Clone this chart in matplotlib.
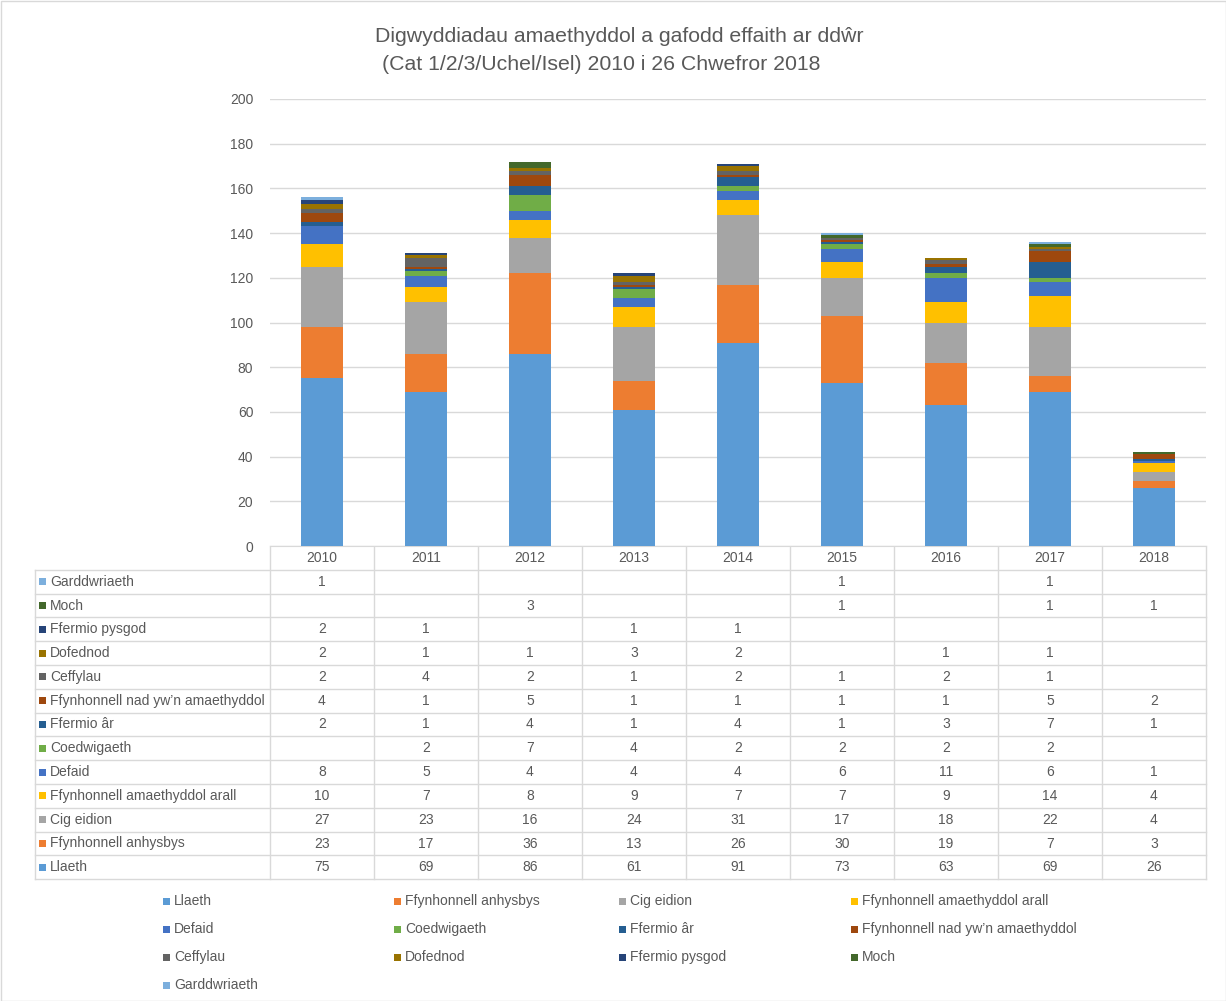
import matplotlib
matplotlib.use("Agg")
import matplotlib.pyplot as plt
from matplotlib.patches import Rectangle
from matplotlib import font_manager

years = ["2010", "2011", "2012", "2013", "2014", "2015", "2016", "2017", "2018"]

# stacking order bottom -> top
series_names = [
    "Llaeth",
    "Ffynhonnell anhysbys",
    "Cig eidion",
    "Ffynhonnell amaethyddol arall",
    "Defaid",
    "Coedwigaeth",
    "Ffermio âr",
    "Ffynhonnell nad yw\u2019n amaethyddol",
    "Ceffylau",
    "Dofednod",
    "Ffermio pysgod",
    "Moch",
    "Garddwriaeth",
]

llaeth = [75, 69, 86, 61, 91, 73, 63, 69, 26]
anhysbys = [23, 17, 36, 13, 26, 30, 19, 7, 3]
cig_eidion = [27, 23, 16, 24, 31, 17, 18, 22, 4]
amaeth_arall = [10, 7, 8, 9, 7, 7, 9, 14, 4]
defaid = [8, 5, 4, 4, 4, 6, 11, 6, 1]
coedwigaeth = [None, 2, 7, 4, 2, 2, 2, 2, None]
ffermio_ar = [2, 1, 4, 1, 4, 1, 3, 7, 1]
nad_amaeth = [4, 1, 5, 1, 1, 1, 1, 5, 2]
ceffylau = [2, 4, 2, 1, 2, 1, 2, 1, None]
dofednod = [2, 1, 1, 3, 2, None, 1, 1, None]
pysgod = [2, 1, None, 1, 1, None, None, None, None]
moch = [None, None, 3, None, None, 1, None, 1, 1]
garddwriaeth = [1, None, None, None, None, 1, None, 1, None]

series_values = [llaeth, anhysbys, cig_eidion, amaeth_arall, defaid, coedwigaeth,
                 ffermio_ar, nad_amaeth, ceffylau, dofednod, pysgod, moch, garddwriaeth]

colors = ["#5B9BD5", "#ED7D31", "#A5A5A5", "#FFC000", "#4472C4", "#70AD47",
          "#255E91", "#9E480E", "#636363", "#997300", "#264478", "#43682B", "#7CAFDD"]

yticks = [0, 20, 40, 60, 80, 100, 120, 140, 160, 180, 200]

avail = {f.name for f in font_manager.fontManager.ttflist}
base_font = "Liberation Sans" if "Liberation Sans" in avail else "DejaVu Sans"
narrow_font = "Liberation Sans Narrow" if "Liberation Sans Narrow" in avail else base_font
plt.rcParams["font.family"] = [base_font, "DejaVu Sans"]

W, H = 1226, 1001
fig = plt.figure(figsize=(W / 100, H / 100), dpi=100)
txt = "#595959"
grid_c = "#D9D9D9"

# layout in pixels
ax_l, ax_r, ax_t, ax_b = 270, 1206, 99, 546
ax = fig.add_axes([ax_l / W, 1 - ax_b / H, (ax_r - ax_l) / W, (ax_b - ax_t) / H])
n = len(years)
xs = list(range(n))
bottom = [0.0] * n
for name, vals, c in zip(series_names, series_values, colors):
    v = [x if x is not None else 0 for x in vals]
    ax.bar(xs, v, bottom=bottom, width=0.41, color=c, zorder=3, linewidth=0)
    bottom = [b + x for b, x in zip(bottom, v)]
ax.set_xlim(-0.5, n - 0.5)
ax.set_ylim(0, 200)
ax.set_yticks(yticks)
ax.set_yticklabels([str(t) for t in yticks], color=txt, fontsize=10)
ax.tick_params(axis="y", length=0, pad=12)
ax.set_xticks([])
ax.grid(axis="y", color=grid_c, linewidth=1, zorder=0)
for s in ["left", "right", "top"]:
    ax.spines[s].set_visible(False)
ax.spines["bottom"].set_color(grid_c)

# overlay for title, table, legend (pixel coordinates)
ov = fig.add_axes([0, 0, 1, 1], zorder=-1)
ov.set_xlim(0, W)
ov.set_ylim(H, 0)
ov.axis("off")
ov.add_patch(Rectangle((0.5, 0.5), W - 1, H - 1, fill=False, edgecolor=grid_c, linewidth=1))

ov.text(619, 37, "Digwyddiadau amaethyddol a gafodd effaith ar ddŵr", ha="center", va="center",
        fontsize=15.3, color=txt)
ov.text(601, 64, "(Cat 1/2/3/Uchel/Isel) 2010 i 26 Chwefror 2018", ha="center", va="center",
        fontsize=15.3, color=txt)

# table
tab_left = 35
row_h = 23.8
col_w = (ax_r - ax_l) / n
n_rows = len(series_names)
tab_bottom = ax_b + row_h * (n_rows + 1)
# header
for i, y in enumerate(years):
    ov.text(ax_l + col_w * (i + 0.5), ax_b + row_h / 2, y, ha="center", va="center",
            fontsize=10, color=txt)
# horizontal lines
for k in range(1, n_rows + 2):
    yy = ax_b + row_h * k
    ov.plot([tab_left, ax_r], [yy, yy], color=grid_c, linewidth=1)
# vertical lines
ov.plot([tab_left, tab_left], [ax_b + row_h, tab_bottom], color=grid_c, linewidth=1)
for i in range(n + 1):
    xx = ax_l + col_w * i
    ov.plot([xx, xx], [ax_b, tab_bottom], color=grid_c, linewidth=1)
# rows (top = last series)
for r, idx in enumerate(reversed(range(n_rows))):
    yc = ax_b + row_h * (r + 1.5)
    ov.add_patch(Rectangle((39, yc - 3.5), 7, 7, color=colors[idx], linewidth=0))
    ov.text(50, yc, series_names[idx], ha="left", va="center", fontsize=10, color=txt)
    for i, v in enumerate(series_values[idx]):
        if v is not None:
            ov.text(ax_l + col_w * (i + 0.5), yc, str(v), ha="center", va="center",
                    fontsize=10, color=txt)

# legend (row-wise, 4 columns)
leg_cols = [163, 394, 619, 851]
leg_rows = [901, 929, 957, 985]
for k, (name, c) in enumerate(zip(series_names, colors)):
    r, cc = divmod(k, 4)
    x0, y0 = leg_cols[cc], leg_rows[r]
    ov.add_patch(Rectangle((x0, y0 - 3.5), 7, 7, color=c, linewidth=0))
    ov.text(x0 + 11, y0, name, ha="left", va="center", fontsize=10, color=txt,
            family=[narrow_font, "DejaVu Sans"])

fig.savefig("out.png", dpi=100)
